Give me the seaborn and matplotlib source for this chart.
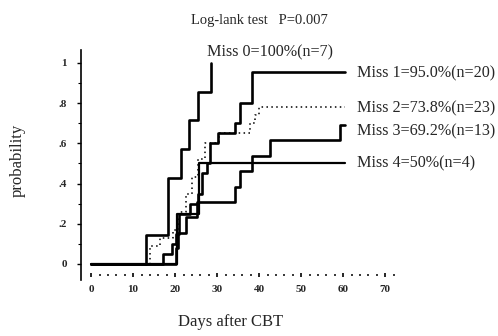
import matplotlib
matplotlib.use("Agg")
import matplotlib.pyplot as plt
import seaborn as sns
import pandas as pd
import numpy as np
from matplotlib.ticker import FixedLocator

# ---- data ----
miss0_days = [0, 13.1, 18.2, 21.3, 23.4, 25.4, 28.5]
miss0_prob = [0, 0.143, 0.429, 0.571, 0.714, 0.857, 1.0]

miss1_days = [0, 17.2, 19.2, 20.3, 21.0, 23.5, 25.5, 26.5, 27.5, 28.3, 30.3, 34.3, 35.5, 38.2, 60.5]
miss1_prob = [0, 0.05, 0.10, 0.15, 0.25, 0.30, 0.35, 0.45, 0.50, 0.60, 0.65, 0.70, 0.80, 0.955, 0.955]

miss2_days = [0, 14, 16.3, 19.6, 21, 22.5, 24, 25.5, 27, 30.5, 37.9, 39, 40, 60.5]
miss2_prob = [0, 0.09, 0.13, 0.17, 0.26, 0.35, 0.43, 0.52, 0.60, 0.65, 0.70, 0.74, 0.78, 0.78]

miss3_days = [0, 20.2, 20.6, 22.5, 25.3, 34.3, 35.5, 38.2, 42.5, 59.3, 60.5]
miss3_prob = [0, 0.077, 0.154, 0.231, 0.308, 0.385, 0.462, 0.538, 0.615, 0.692, 0.692]

miss4_days = [0, 20.4, 25.7, 60.5]
miss4_prob = [0, 0.25, 0.5, 0.5]

group_labels = ["Miss 0=100%(n=7)", "Miss 1=95.0%(n=20)", "Miss 2=73.8%(n=23)",
                "Miss 3=69.2%(n=13)", "Miss 4=50%(n=4)"]
y_tick_vals = [0, 0.2, 0.4, 0.6, 0.8, 1.0]
y_tick_labels = ["0", ".2", ".4", ".6", ".8", "1"]
x_tick_vals = [0, 10, 20, 30, 40, 50, 60, 70]
title_text = "Log-lank test   P=0.007"
xlabel_text = "Days after CBT"
ylabel_text = "probability"

# ---- build table ----
series = [(miss0_days, miss0_prob), (miss1_days, miss1_prob), (miss2_days, miss2_prob),
          (miss3_days, miss3_prob), (miss4_days, miss4_prob)]
frames = []
for i, (d, p) in enumerate(series):
    frames.append(pd.DataFrame({"day": d, "prob": p, "group": f"Miss {i}"}))
df = pd.concat(frames, ignore_index=True)

sns.set_style("ticks")
plt.rcParams["font.family"] = ["Liberation Serif", "DejaVu Serif"]

fig = plt.figure(figsize=(4.98, 3.36), dpi=100)
ax = fig.add_axes([0.1627, 0.1667, 0.632, 0.685])

styles = {"Miss 0": dict(lw=1.9, ls="-"),
          "Miss 1": dict(lw=1.9, ls="-"),
          "Miss 2": dict(lw=1.1, ls=(0, (1, 2.2))),
          "Miss 3": dict(lw=1.9, ls="-"),
          "Miss 4": dict(lw=1.6, ls="-")}
for g, st in styles.items():
    sub = df[df["group"] == g]
    sns.lineplot(data=sub, x="day", y="prob", ax=ax, color="black",
                 drawstyle="steps-post", estimator=None, sort=False,
                 linewidth=st["lw"], linestyle=st["ls"], legend=False)

ax.set_xlim(-2.4, 72.5)
ax.set_ylim(-0.08, 1.065)

for s in ["top", "right"]:
    ax.spines[s].set_visible(False)
ax.spines["bottom"].set_position(("data", -0.055))
ax.spines["bottom"].set_color("none")
ax.spines["left"].set_linewidth(1.2)
ax.spines["left"].set_color("black")

ax.set_xticks(x_tick_vals)
ax.set_xticklabels([str(v) for v in x_tick_vals], fontsize=8, fontweight="bold")
ax.xaxis.set_minor_locator(FixedLocator(np.arange(0, 73, 2)))
ax.tick_params(axis="x", which="major", direction="inout", length=3.5, width=1.2, pad=5.5,
               color="black", bottom=True)
ax.tick_params(axis="x", which="minor", direction="inout", length=2, width=1.1,
               color="black", bottom=True)

ax.set_yticks(y_tick_vals)
ax.set_yticklabels(y_tick_labels, fontsize=8, fontweight="bold")
ax.yaxis.set_minor_locator(FixedLocator(np.arange(0.1, 1.0, 0.2)))
ax.tick_params(axis="y", which="major", direction="out", length=3, width=1.0, pad=7,
               color="black", left=True)
ax.tick_params(axis="y", which="minor", direction="out", length=2, width=0.8,
               color="black", left=True)

ax.set_xlabel("")
ax.set_ylabel("")

# series labels
label_pos = [(27.6, 1.052), (63.3, 0.95), (63.3, 0.776), (63.3, 0.66), (63.3, 0.50)]
for txt, (x, y) in zip(group_labels, label_pos):
    ax.text(x, y, txt, fontsize=11.6, va="center", ha="left", clip_on=False)

fig.text(0.52, 0.94, title_text, ha="center", va="center", fontsize=10.5)
fig.text(0.462, 0.042, xlabel_text, ha="center", va="center", fontsize=12)
fig.text(0.036, 0.524, ylabel_text, ha="center", va="center", rotation=90, fontsize=12)

fig.savefig("out.png", dpi=100)
